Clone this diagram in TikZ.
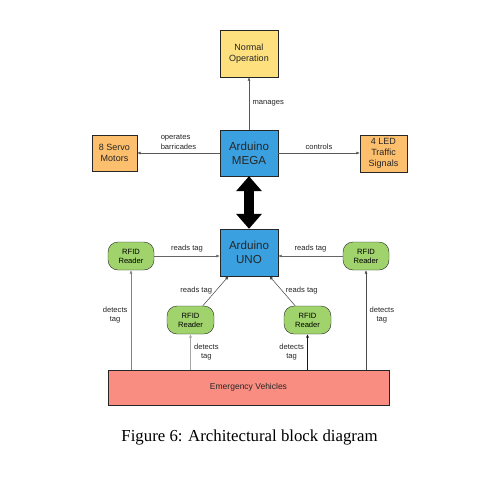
\documentclass[tikz,border=0pt]{standalone}
\usepackage{fontspec}
\setmainfont{Liberation Sans}
\newfontfamily\captionfont{Liberation Serif}
\usetikzlibrary{arrows.meta,positioning}

\definecolor{opyellow}{HTML}{FFE07F}
\definecolor{motororange}{HTML}{FCBF6D}
\definecolor{boardblue}{HTML}{3BA0DF}
\definecolor{readergreen}{HTML}{A0D36C}
\definecolor{vehiclered}{HTML}{F98D82}

\tikzset{
	block/.style={rectangle, draw=black!85, inner sep=0pt, align=center, text=black!85},
	reader/.style={rectangle, rounded corners=10pt, draw=black!85, fill=readergreen, inner sep=0pt,
		minimum width=46pt, minimum height=28pt, align=center, font=\fontsize{7.6}{9}\selectfont},
	arr/.style={-{Latex[length=3.5pt,width=3pt]}, line width=0.5pt},
	lbl/.style={font=\fontsize{7.6}{9.5}\selectfont, align=center, text=black!85}
}

\begin{document}
\begin{tikzpicture}[x=1pt, y=-1pt]

		\useasboundingbox[fill=white] (0,0) rectangle (493,496);

		\node(normal)[block, fill=opyellow, minimum width=58pt, minimum height=47pt, font=\fontsize{9}{11}\selectfont] at (249,53.5) {Normal\\Operation};
		\node(mega)[block, fill=boardblue, minimum width=58pt, minimum height=46pt, font=\fontsize{11.6}{14}\selectfont] at (249,153) {Arduino\\MEGA};
		\node(uno)[block, fill=boardblue, minimum width=58pt, minimum height=47pt, font=\fontsize{11.6}{14}\selectfont] at (249,252.5) {Arduino\\UNO};

		\node(servo)[block, fill=motororange, minimum width=45pt, minimum height=36pt, font=\fontsize{9}{11}\selectfont] at (114.5,153) {8 Servo\\Motors};
		\node(led)[block, fill=motororange, minimum width=47pt, minimum height=37pt, font=\fontsize{9}{11}\selectfont] at (383.5,153.5) {4 LED\\Traffic\\Signals};

		\node(rfid-1)[reader] at (131,256) {RFID\\Reader};
		\node(rfid-2)[reader, minimum width=47pt] at (190.5,320) {RFID\\Reader};
		\node(rfid-3)[reader, minimum width=47pt] at (307.5,320) {RFID\\Reader};
		\node(rfid-4)[reader] at (366,256) {RFID\\Reader};

		\node(vehicles)[block, fill=vehiclered, minimum width=281pt, minimum height=35pt, font=\fontsize{8.5}{10}\selectfont] at (248.5,387.5) {Emergency Vehicles};

		\node(caption) at (249.5,437) {\captionfont\fontsize{16.8}{20}\selectfont Figure 6: Architectural block diagram};


		\draw[arr, black!65] (mega) --node[lbl, right]{manages} (normal);
		\draw[arr, black!65] (mega) --node[lbl, above, align=left]{operates\\barricades} (servo);
		\draw[arr, black!65] (mega.east) --node[lbl, above]{controls} (mega.east -| led.west);

		\draw[line width=10pt, {Triangle[length=15pt,width=25pt]}-{Triangle[length=15pt,width=25pt]}] (mega.south) -- (uno.north);

		\draw[arr, black!60] (rfid-1) --node[lbl, above]{reads tag} (rfid-1 -| uno.west);
		\draw[arr, black!60] (rfid-4) --node[lbl, above]{reads tag} (rfid-4 -| uno.east);
		\draw[arr, black!75] (rfid-2) --node[lbl, left]{reads tag} (uno);
		\draw[arr, black!75] (rfid-3) --node[lbl, right]{reads tag} (uno);

		\draw[arr, black!50] (vehicles.north -| rfid-1) --node[lbl, left, pos=0.55]{detects\\tag} (rfid-1);
		\draw[arr, black!35] (vehicles.north -| rfid-2) --node[lbl, right]{detects\\tag} (rfid-2);
		\draw[arr, black!90] (vehicles.north -| rfid-3) --node[lbl, left]{detects\\tag} (rfid-3);
		\draw[arr, black!70] (vehicles.north -| rfid-4) --node[lbl, right, pos=0.55]{detects\\tag} (rfid-4);
	\end{tikzpicture}
\end{document}
